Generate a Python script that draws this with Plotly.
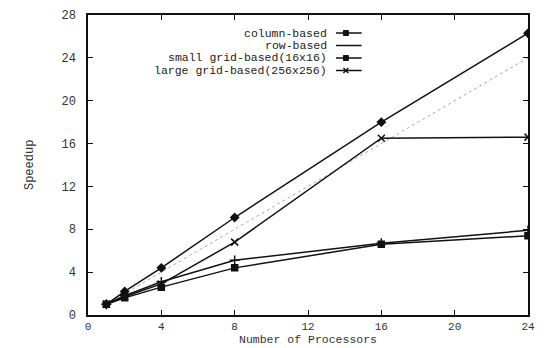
import plotly.graph_objects as go

procs = [1, 2, 4, 8, 16, 24]
column_based = [1.0, 2.2, 4.4, 9.1, 18.0, 26.3]
row_based = [1.0, 1.8, 3.1, 5.1, 6.7, 7.9]
small_grid = [1.0, 1.6, 2.6, 4.4, 6.6, 7.4]
large_grid = [1.0, 1.7, 2.9, 6.8, 16.5, 16.6]
ideal_x = [1, 24]
ideal_y = [1, 24]

names = ["column-based", "row-based", "small grid-based(16x16)", "large grid-based(256x256)"]
series = [column_based, row_based, small_grid, large_grid]
symbols = ["diamond", "cross-thin", "square", "x-thin"]
sizes = [6, 7, 6, 7]

FONT = "Liberation Mono"
fig = go.Figure()

fig.add_trace(go.Scatter(x=ideal_x, y=ideal_y, mode="lines",
                         line=dict(color="#aaa", width=1, dash="dot"), showlegend=False))

for nm, ys, sym, sz in zip(names, series, symbols, sizes):
    fig.add_trace(go.Scatter(
        x=procs, y=ys, mode="lines+markers", name=nm, showlegend=False,
        line=dict(color="#111", width=1.5),
        marker=dict(symbol=sym, size=sz, color="#111", line=dict(color="#111", width=1.5)),
    ))

# custom gnuplot-style legend: right-aligned text, sample line on the right
B = 315  # bottom axis pixel row
W, H = 447, B - 15  # plot area in px
leg_rows_px = [33, 45.5, 58, 70.5]
shapes = []
annotations = []
for i, (nm, sym) in enumerate(zip(names, symbols)):
    ypx = leg_rows_px[i]
    yp = (B - ypx) / H
    x_text = (332 - 88) / W
    x0 = (340 - 88) / W
    x1 = (366 - 88) / W
    annotations.append(dict(x=x_text, y=yp, xref="paper", yref="paper", text=nm,
                            showarrow=False, xanchor="right", yanchor="middle", borderpad=0,
                            font=dict(family=FONT, size=11.5, color="#222")))
    shapes.append(dict(type="line", xref="paper", yref="paper", x0=x0, x1=x1, y0=yp, y1=yp,
                       line=dict(color="#111", width=1.5)))
    xm = (350 - 88) / W
    d = 2.5 / W
    dy = 2.5 / H
    if i in (0, 2):
        shapes.append(dict(type="rect", xref="paper", yref="paper", x0=xm - d, x1=xm + d,
                           y0=yp - dy, y1=yp + dy, fillcolor="#111", line=dict(color="#111", width=1)))
    elif i == 3:
        shapes.append(dict(type="line", xref="paper", yref="paper", x0=xm - d, x1=xm + d,
                           y0=yp - dy, y1=yp + dy, line=dict(color="#111", width=1.5)))
        shapes.append(dict(type="line", xref="paper", yref="paper", x0=xm - d, x1=xm + d,
                           y0=yp + dy, y1=yp - dy, line=dict(color="#111", width=1.5)))

annotations.append(dict(x=-68 / W, y=(B - 165) / H, xref="paper", yref="paper", text="Speedup",
                        textangle=-90, showarrow=False, font=dict(family=FONT, size=12, color="#333")))
annotations.append(dict(x=0.5, y=0, yshift=-(348 - B) + 1, xref="paper", yref="paper",
                        text="Number of Processors", showarrow=False, yanchor="bottom", borderpad=0,
                        font=dict(family=FONT, size=11.5, color="#333")))

axis_common = dict(showgrid=False, zeroline=False, showline=True, linecolor="#111", linewidth=1.5,
                   mirror="ticks", ticks="inside", ticklen=5, tickcolor="#111", tickwidth=1,
                   tickfont=dict(family=FONT, size=12, color="#333"))
fig.update_xaxes(range=[0, 24], tickvals=[0, 4, 8, 12, 16, 20, 24], ticklabelstandoff=0,
                 **{**axis_common, "tickfont": dict(family=FONT, size=11, color="#333")})
fig.update_yaxes(range=[0, 28], tickvals=[0, 4, 8, 12, 16, 20, 24, 28], ticklabelstandoff=8, **axis_common)

fig.update_layout(width=544, height=348, margin=dict(l=88, r=9, t=15, b=348 - B),
                  paper_bgcolor="white", plot_bgcolor="white",
                  shapes=shapes, annotations=annotations, showlegend=False)
fig.write_html("out.html", config={"displayModeBar": False},
               post_script="document.body.style.margin='0';")
